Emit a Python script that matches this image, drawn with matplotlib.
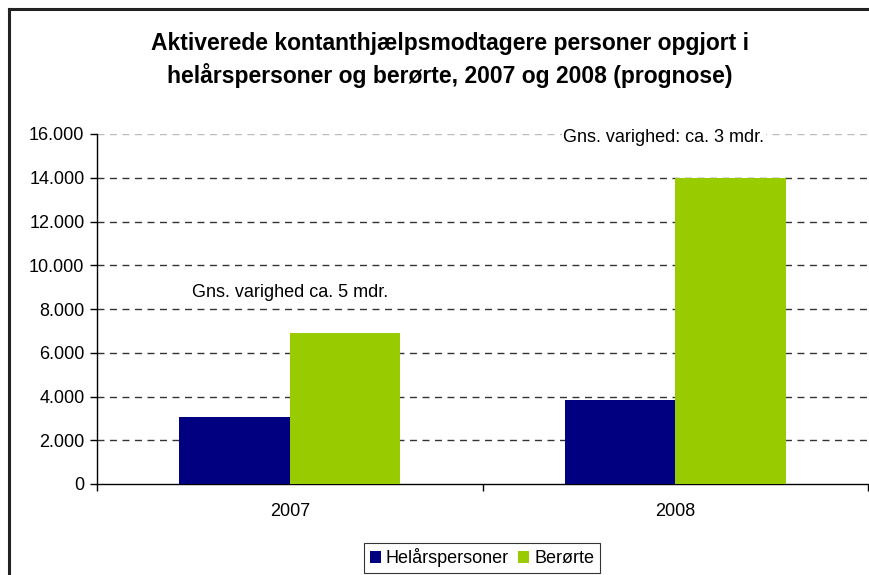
import matplotlib.pyplot as plt
import numpy as np
from matplotlib.lines import Line2D

plt.rcParams["font.family"] = ["Liberation Sans", "DejaVu Sans"]

years = ["2007", "2008"]
helaars = [3050, 3850]
beroerte = [6900, 14000]
notes = ["Gns. varighed ca. 5 mdr.", "Gns. varighed: ca. 3 mdr."]
note_x = [0.0, 0.97]
note_y = [8750, 15850]
yticks = np.arange(0, 16001, 2000)

fig = plt.figure(figsize=(8.69, 5.75), dpi=100)
ax = fig.add_axes([97 / 869, 1 - 484 / 575, 771 / 869, 350 / 575])

x = np.arange(len(years))
w = 0.286
ax.bar(x - w / 2, helaars, w, color="#000080", label="Helårspersoner", zorder=3)
ax.bar(x + w / 2, beroerte, w, color="#99CC00", label="Berørte", zorder=3)

ax.set_xlim(-0.5, 1.5)
ax.set_ylim(0, 16000)
ax.set_yticks(yticks)
ax.set_yticklabels([f"{v:,}".replace(",", ".") for v in yticks], fontsize=13)
ax.set_xticks(x)
ax.set_xticklabels(years, fontsize=13)
ax.tick_params(axis="x", length=0, pad=14)
ax.set_xticks([-0.5, 0.5, 1.5], minor=True)
ax.tick_params(axis="x", which="minor", length=5, width=1, direction="out")
ax.tick_params(axis="y", length=5, width=1, direction="out", pad=4)

for s in ["top", "right"]:
    ax.spines[s].set_visible(False)
for s in ["left", "bottom"]:
    ax.spines[s].set_linewidth(1)
    ax.spines[s].set_color("black")

for v in yticks[1:]:
    col = "#BBBBBB" if v == 16000 else "#333333"
    ax.axhline(v, color=col, lw=1, dashes=(5, 4), zorder=1)

for xi, t, ty in zip(note_x, notes, note_y):
    ax.text(xi, ty, t, ha="center", va="center", fontsize=13,
            bbox=dict(facecolor="white", edgecolor="none", pad=1), zorder=4)

fig.text(450 / 869, 1 - 60 / 575, "Aktiverede kontanthjælpsmodtagere personer opgjort i\n"
         "helårspersoner og berørte, 2007 og 2008 (prognose)",
         ha="center", va="center", fontsize=16.5, fontweight="bold", linespacing=1.4)

fig.add_artist(Line2D([9 / 869, 9 / 869], [0, 1 - 9 / 575], color="#222222", lw=2.2))
fig.add_artist(Line2D([9 / 869, 1], [1 - 9 / 575, 1 - 9 / 575], color="#222222", lw=2.2))

leg = fig.legend(loc="upper center", bbox_to_anchor=(482 / 869, 1 - 543 / 575), ncol=2,
                 fontsize=13, frameon=True, fancybox=False, handlelength=0.6,
                 handleheight=0.6, handletextpad=0.3, columnspacing=0.5,
                 borderpad=0.3, borderaxespad=0)
leg.get_frame().set_edgecolor("black")
leg.get_frame().set_linewidth(0.8)

fig.savefig("out.png", dpi=100)
